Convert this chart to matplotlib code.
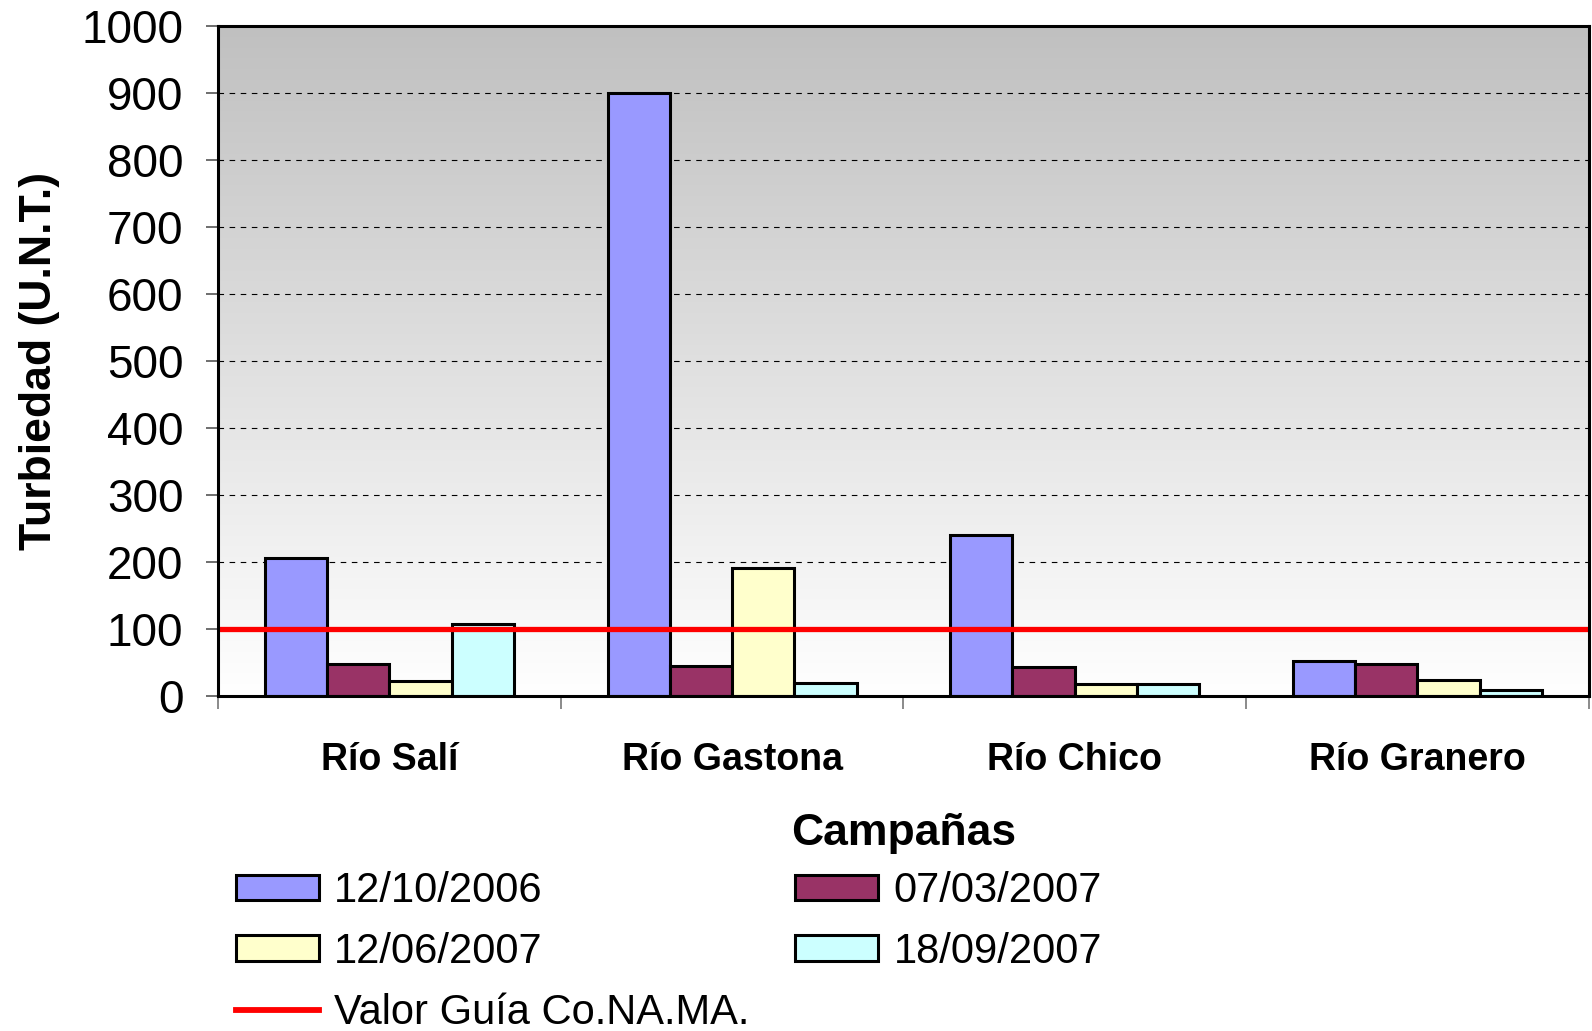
import numpy as np
import matplotlib
matplotlib.use('Agg')
import matplotlib.pyplot as plt
from matplotlib.colors import LinearSegmentedColormap
from matplotlib.patches import Patch
from matplotlib.lines import Line2D

plt.rcParams['font.family'] = ['Liberation Sans', 'DejaVu Sans']

# ── Turbiedad por río y campaña ─────────────────────────
rios = ['Río Salí', 'Río Gastona', 'Río Chico', 'Río Granero']
campanas = ['12/10/2006', '07/03/2007', '12/06/2007', '18/09/2007']
turb_oct06 = [206, 900, 241, 53]
turb_mar07 = [49, 45, 44, 49]
turb_jun07 = [23, 191, 19, 24]
turb_sep07 = [108, 20, 19, 9]
valor_guia = 100
y_ticks = [0, 100, 200, 300, 400, 500, 600, 700, 800, 900, 1000]

series = [turb_oct06, turb_mar07, turb_jun07, turb_sep07]
colors = ['#9999FF', '#993366', '#FFFFCC', '#CCFFFF']

fig = plt.figure(figsize=(15.92, 10.31), dpi=100)
ax = fig.add_axes([0.137, 0.3245, 0.861, 0.6505])

x = np.arange(len(rios))
width = 1 / 5.5

# gray-to-white vertical gradient behind the bars
grad = LinearSegmentedColormap.from_list('bg', ['#ffffff', '#c0c0c0'])
ax.imshow(np.linspace(0, 1, 256).reshape(-1, 1), extent=[-0.5, 3.5, 0, 1000],
          origin='lower', aspect='auto', cmap=grad, zorder=0)

for i, (vals, c) in enumerate(zip(series, colors)):
    ax.bar(x + (i - 1.5) * width, vals, width, color=c, edgecolor='black',
           linewidth=2.2, zorder=3, label=campanas[i])

ax.axhline(valor_guia, color='#FF0000', linewidth=3.8, zorder=4)

ax.set_xlim(-0.5, 3.5)
ax.set_ylim(0, 1000)
ax.set_yticks(y_ticks)
ax.set_yticklabels([str(t) for t in y_ticks], fontsize=33)
ax.yaxis.grid(True, linestyle=(0, (5, 5)), color='black', linewidth=0.8, zorder=1)
ax.set_axisbelow(True)
ax.tick_params(axis='y', direction='out', length=9, width=1.2, pad=16, color='#555555')

# ticks at category boundaries, labels centered on each group
ax.set_xticks([-0.5, 0.5, 1.5, 2.5, 3.5])
ax.set_xticklabels([])
ax.tick_params(axis='x', which='major', direction='out', length=9, width=1.2, color='#777777')
ax.set_xticks(x, minor=True)
ax.set_xticklabels(rios, minor=True, fontsize=27, fontweight='bold')
ax.tick_params(axis='x', which='minor', length=0, pad=33)

for s in ax.spines.values():
    s.set_linewidth(2.2)
    s.set_zorder(5)

ax.set_xlabel('Campañas', fontsize=32, fontweight='bold', labelpad=25)
ax.set_ylabel('Turbiedad (U.N.T.)', fontsize=32, fontweight='bold')
ax.yaxis.set_label_coords(-0.115, 0.5)

handles = [Patch(facecolor=c, edgecolor='black', linewidth=2.2) for c in colors]
guia = Line2D([], [], color='#FF0000', linewidth=4.2)
fig.legend([handles[0], handles[2], guia, handles[1], handles[3]],
           [campanas[0], campanas[2], 'Valor Guía Co.NA.MA.', campanas[1], campanas[3]],
           ncol=2, loc='upper left', bbox_to_anchor=(0.148, 0.155), frameon=False,
           borderpad=0, borderaxespad=0, handlelength=2.0, handleheight=0.58,
           handletextpad=0.36, columnspacing=1.1, labelspacing=0.5,
           fontsize=30)

fig.savefig('out.png', dpi=100)
